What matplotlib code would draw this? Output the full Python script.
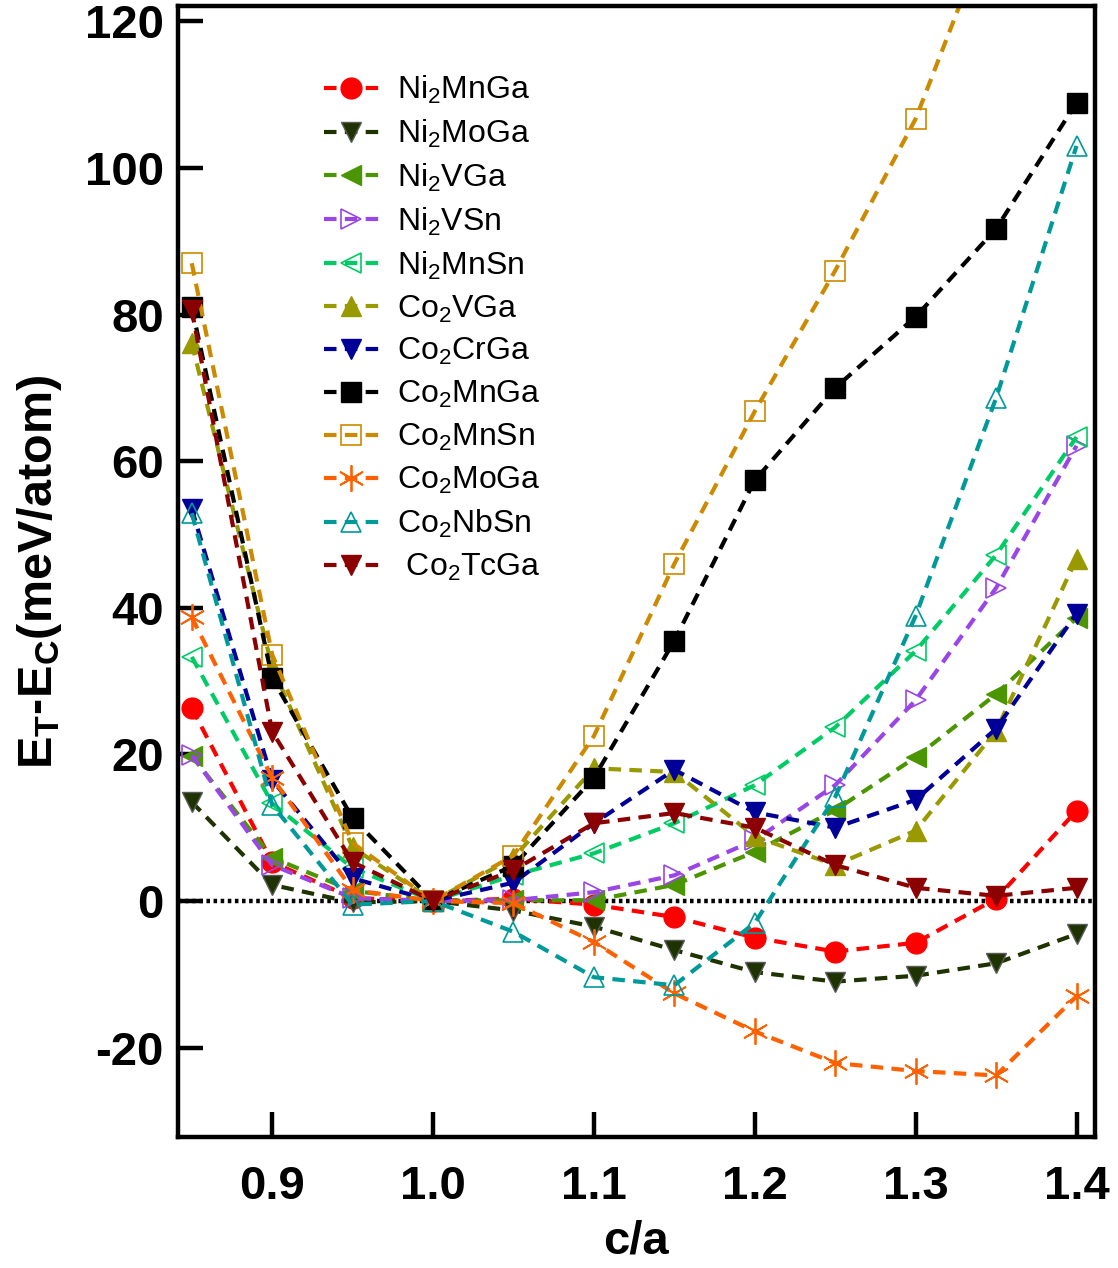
#!/usr/bin/env python3
"""Energy difference E_T - E_C vs c/a for Heusler compounds."""
import matplotlib
matplotlib.use("Agg")
import matplotlib.pyplot as plt
import numpy as np

plt.rcParams["font.family"] = ["Liberation Sans", "DejaVu Sans"]
plt.rcParams["mathtext.default"] = "regular"
plt.rcParams["axes.unicode_minus"] = False

ca = [0.85, 0.90, 0.95, 1.00, 1.05, 1.10, 1.15, 1.20, 1.25, 1.30, 1.35, 1.40]

ni2mnga = [26.3, 5.3, 0.4, 0.0, 0.3, -0.5, -2.2, -5.0, -6.9, -5.7, 0.3, 12.3]
ni2moga = [13.5, 2.2, -0.2, 0.0, -1.3, -3.5, -6.7, -9.7, -11.0, -10.2, -8.5, -4.5]
ni2vga = [19.8, 5.9, 1.4, 0.0, 0.1, 0.1, 2.2, 6.7, 12.4, 19.6, 28.2, 38.6]
ni2vsn = [19.9, 4.9, 0.4, 0.0, 0.1, 1.2, 3.5, 8.3, 15.8, 27.4, 42.7, 62.1]
ni2mnsn = [33.3, 13.3, 4.5, 0.0, 3.5, 6.5, 10.6, 15.8, 23.7, 34.1, 47.2, 63.3]
co2vga = [76.1, 31.9, 7.3, 0.0, 5.9, 18.1, 17.6, 8.8, 4.9, 9.6, 23.2, 46.7]
co2crga = [53.5, 16.5, 3.1, 0.0, 2.5, 10.6, 17.9, 12.1, 10.0, 13.8, 23.5, 39.2]
co2mnga = [81.0, 30.4, 11.3, 0.0, 4.8, 16.8, 35.5, 57.4, 70.0, 79.7, 91.7, 108.9]
co2mnsn = [87.0, 33.6, 7.9, 0.0, 6.2, 22.5, 46.0, 66.8, 86.0, 106.7, 135.0, np.nan]
co2moga = [38.7, 16.8, 1.5, 0.0, -0.3, -5.6, -12.6, -17.8, -22.1, -23.2, -23.8, -13.0]
co2nbsn = [52.9, 13.1, -0.5, 0.0, -4.2, -10.4, -11.5, -3.0, 14.2, 38.9, 68.6, 103.0]
co2tcga = [80.6, 23.1, 5.3, 0.0, 4.2, 10.6, 12.0, 10.0, 4.9, 1.8, 0.7, 1.8]

# (label, values, colour, marker, filled)
series = [
    ("Ni$_2$MnGa", ni2mnga, "#ff0000", "o", True),
    ("Ni$_2$MoGa", ni2moga, "#1f3300", "v", True),
    ("Ni$_2$VGa", ni2vga, "#4b9600", "<", True),
    ("Ni$_2$VSn", ni2vsn, "#9a45e6", ">", False),
    ("Ni$_2$MnSn", ni2mnsn, "#00cc66", "<", False),
    ("Co$_2$VGa", co2vga, "#999900", "^", True),
    ("Co$_2$CrGa", co2crga, "#000099", "v", True),
    ("Co$_2$MnGa", co2mnga, "#000000", "s", True),
    ("Co$_2$MnSn", co2mnsn, "#cc8a00", "s", False),
    ("Co$_2$MoGa", co2moga, "#ff6000", (6, 2, 0), False),
    ("Co$_2$NbSn", co2nbsn, "#009999", "^", False),
    (" Co$_2$TcGa", co2tcga, "#8b0000", "v", True),
]

fig = plt.figure(figsize=(11.18, 12.68), dpi=100)
ax = fig.add_axes([0.159, 0.1033, 0.82, 0.892])

ax.axhline(0, color="black", lw=3.2, ls=(0, (0.8, 0.8)), zorder=1)

for label, vals, col, mk, filled in series:
    kw = dict(color=col, lw=3, ls=(0, (3, 2)), marker=mk, markersize=15, label=label, zorder=2)
    if filled:
        kw.update(markerfacecolor=col, markeredgecolor=col, markeredgewidth=1)
    else:
        kw.update(markerfacecolor="none", markeredgecolor=col, markeredgewidth=1.2)
    if label == "Ni$_2$MoGa":
        kw["markeredgecolor"] = "#5a5a5a"
    if label == "Co$_2$MoGa":
        kw.update(markersize=19, markeredgewidth=1.3)
    ax.plot(ca, vals, **kw)

ax.set_xlim(0.8413, 1.4112)
ax.set_ylim(-32.2, 122.1)
ax.set_xticks([0.9, 1.0, 1.1, 1.2, 1.3, 1.4])
ax.set_xticklabels(["0.9", "1.0", "1.1", "1.2", "1.3", "1.4"])
ax.set_yticks([-20, 0, 20, 40, 60, 80, 100, 120])

for s in ax.spines.values():
    s.set_linewidth(3.2)
ax.tick_params(axis="both", direction="in", length=18, width=3.2, labelsize=34)
ax.tick_params(axis="x", pad=20)
ax.tick_params(axis="y", pad=10)
for t in ax.get_xticklabels() + ax.get_yticklabels():
    t.set_fontweight("bold")

ax.set_xlabel("c/a", fontsize=34, fontweight="bold", labelpad=8)
ax.set_ylabel("E$_T$-E$_C$(meV/atom)", fontsize=35, fontweight="bold")
ax.yaxis.set_label_coords(-0.124, 0.5)

ax.legend(loc="upper left", bbox_to_anchor=(0.159, 0.94), frameon=False,
          fontsize=23, handlelength=1.75, handletextpad=0.55, labelspacing=0.37,
          borderpad=0, borderaxespad=0)

fig.savefig("out.png", dpi=100)
